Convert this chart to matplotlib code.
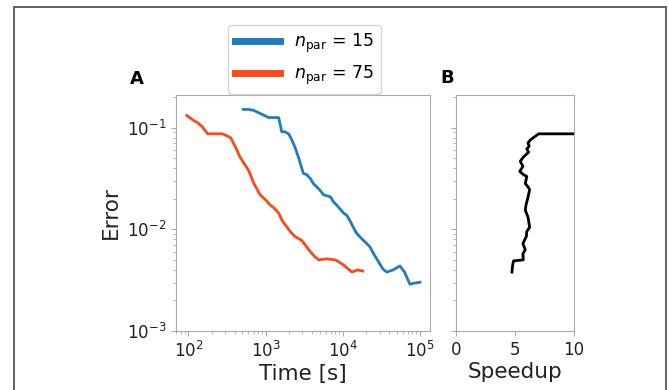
import numpy as np
import matplotlib.pyplot as plt
from matplotlib.patches import Rectangle

# log10 of time [s] and log10 of error
blue_logt = [2.71, 2.78, 2.85, 2.93, 3.04, 3.17, 3.21, 3.25, 3.30, 3.34, 3.38, 3.43, 3.49,
             3.53, 3.58, 3.62, 3.66, 3.70, 3.75, 3.84, 3.88, 3.92, 4.01, 4.05, 4.09, 4.13,
             4.18, 4.27, 4.35, 4.40, 4.44, 4.52, 4.57, 4.65, 4.74, 4.80, 4.87, 4.92, 5.00]
blue_logerr = [-0.82, -0.82, -0.83, -0.86, -0.90, -0.90, -1.04, -1.04, -1.06, -1.12, -1.19,
               -1.30, -1.45, -1.46, -1.50, -1.55, -1.58, -1.61, -1.66, -1.68, -1.73, -1.76,
               -1.84, -1.86, -1.91, -1.97, -2.04, -2.11, -2.17, -2.24, -2.29, -2.39, -2.42,
               -2.40, -2.36, -2.42, -2.54, -2.53, -2.52]

red_logt = [1.98, 2.07, 2.12, 2.18, 2.25, 2.35, 2.44, 2.50, 2.55, 2.61, 2.67, 2.72, 2.78,
            2.85, 2.93, 3.00, 3.06, 3.11, 3.17, 3.22, 3.28, 3.33, 3.38, 3.47, 3.53, 3.58,
            3.64, 3.69, 3.79, 3.90, 3.95, 4.01, 4.07, 4.12, 4.19, 4.26]
red_logerr = [-0.88, -0.93, -0.95, -0.99, -1.06, -1.06, -1.06, -1.08, -1.10, -1.19, -1.29,
              -1.35, -1.42, -1.55, -1.66, -1.71, -1.76, -1.79, -1.84, -1.92, -1.98, -2.03,
              -2.07, -2.11, -2.17, -2.22, -2.27, -2.30, -2.29, -2.30, -2.32, -2.35, -2.39,
              -2.42, -2.40, -2.41]

speedup = [10.0, 7.0, 6.3, 6.1, 6.2, 6.0, 6.15, 5.7, 5.45, 5.67, 5.4, 5.7, 6.0, 5.87, 6.1,
           6.24, 6.07, 5.95, 5.87, 6.1, 6.24, 6.0, 5.96, 5.67, 5.87, 5.67, 5.7, 4.88, 4.8, 4.74]
speedup_logerr = [-1.06, -1.06, -1.12, -1.15, -1.18, -1.21, -1.24, -1.29, -1.33, -1.38, -1.43,
                  -1.46, -1.48, -1.55, -1.58, -1.61, -1.70, -1.75, -1.81, -1.88, -1.98, -2.02,
                  -2.07, -2.14, -2.20, -2.24, -2.30, -2.31, -2.35, -2.42]

blue_t = 10 ** np.array(blue_logt)
blue_err = 10 ** np.array(blue_logerr)
red_t = 10 ** np.array(red_logt)
red_err = 10 ** np.array(red_logerr)
sp_err = 10 ** np.array(speedup_logerr)

plt.rcParams['font.family'] = 'DejaVu Sans'
plt.rcParams['axes.edgecolor'] = '#aaaaaa'
plt.rcParams['xtick.color'] = '#aaaaaa'
plt.rcParams['ytick.color'] = '#aaaaaa'
plt.rcParams['xtick.labelcolor'] = '#222222'
plt.rcParams['ytick.labelcolor'] = '#222222'

fig = plt.figure(figsize=(6.69, 3.9), dpi=100)
W, H = 669, 390

# outer frame
fig.patches.append(Rectangle((14 / W, -0.05), 652 / W, 1.05 - 7 / H, transform=fig.transFigure,
                             fill=False, edgecolor='#555555', linewidth=1.3))

axA = fig.add_axes([176 / W, 1 - 331 / H, 254 / W, 236 / H])
axB = fig.add_axes([456 / W, 1 - 331 / H, 118 / W, 236 / H], sharey=axA)

l1, = axA.plot(blue_t, blue_err, color='#1f7bc2', lw=2, label=r'$n_{\mathrm{par}}$ = 15')
l2, = axA.plot(red_t, red_err, color='#fa4a1a', lw=2, label=r'$n_{\mathrm{par}}$ = 75')
axA.set_xscale('log')
axA.set_yscale('log')
axA.set_xlim(10 ** 1.84, 10 ** 5.13)
axA.set_ylim(1e-3, 10 ** -0.678)
axA.set_xticks([1e2, 1e3, 1e4, 1e5])
axA.set_yticks([1e-3, 1e-2, 1e-1])
axA.tick_params(labelsize=12)
axA.set_xlabel('Time [s]', fontsize=15.5, color='#222222', labelpad=2)
axA.set_ylabel('Error', fontsize=15.5, color='#222222', labelpad=4)

axB.plot(speedup, sp_err, color='black', lw=2)
axB.set_xlim(0, 10)
axB.set_xticks([0, 5, 10])
axB.tick_params(labelsize=12, labelleft=False)
axB.set_xlabel('Speedup', fontsize=15.5, color='#222222', labelpad=2)

fig.text(137 / W, 1 - 79 / H, 'A', fontsize=13, fontweight='bold', ha='center', va='center')
fig.text(447 / W, 1 - 78 / H, 'B', fontsize=13, fontweight='bold', ha='center', va='center')

leg = fig.legend(handles=[l1, l2], loc='upper left', bbox_to_anchor=(228 / W, 1 - 25 / H),
                 fontsize=12.5, frameon=True, handlelength=2.6, borderaxespad=0)
for line in leg.get_lines():
    line.set_linewidth(5)
leg.get_frame().set_edgecolor('#cccccc')

fig.savefig('out.png', dpi=100)
